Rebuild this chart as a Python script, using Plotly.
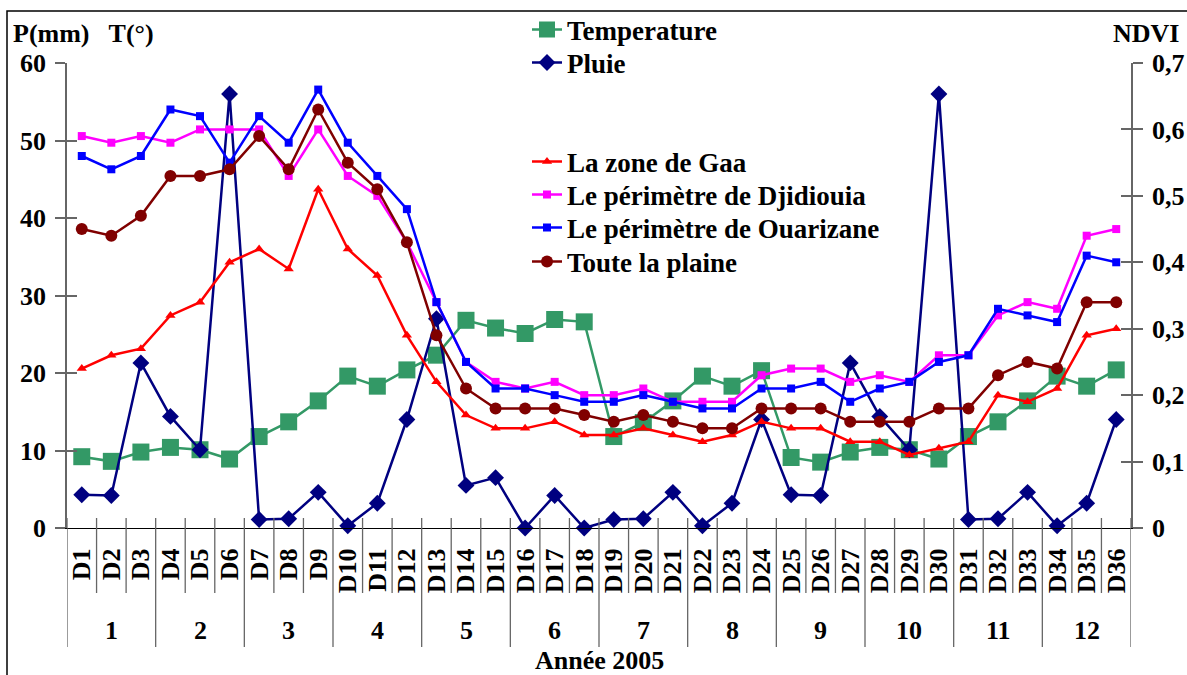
import plotly.graph_objects as go

decades = [f"D{i}" for i in range(1, 37)]
months = [str(m) for m in range(1, 13)]

temperature = [9.2, 8.6, 9.8, 10.4, 10.1, 8.9, 11.8, 13.7, 16.4, 19.6, 18.3, 20.4,
               22.3, 26.8, 25.8, 25.1, 26.9, 26.6, 11.8, 13.6, 16.4, 19.6, 18.3, 20.3,
               9.1, 8.5, 9.8, 10.4, 10.1, 8.9, 11.8, 13.7, 16.4, 19.6, 18.3, 20.4]
pluie = [4.3, 4.2, 21.3, 14.4, 10.1, 56.0, 1.1, 1.2, 4.6, 0.3, 3.2, 14.0,
         27.0, 5.5, 6.5, 0.0, 4.2, 0.0, 1.1, 1.2, 4.6, 0.3, 3.2, 14.0,
         4.3, 4.2, 21.3, 14.4, 10.1, 56.0, 1.1, 1.2, 4.6, 0.3, 3.2, 14.0]
gaa = [0.24, 0.26, 0.27, 0.32, 0.34, 0.40, 0.42, 0.39, 0.51, 0.42, 0.38, 0.29,
       0.22, 0.17, 0.15, 0.15, 0.16, 0.14, 0.14, 0.15, 0.14, 0.13, 0.14, 0.16,
       0.15, 0.15, 0.13, 0.13, 0.11, 0.12, 0.13, 0.20, 0.19, 0.21, 0.29, 0.30]
djidiouia = [0.59, 0.58, 0.59, 0.58, 0.60, 0.60, 0.60, 0.53, 0.60, 0.53, 0.50, 0.43,
             0.34, 0.25, 0.22, 0.21, 0.22, 0.20, 0.20, 0.21, 0.19, 0.19, 0.19, 0.23,
             0.24, 0.24, 0.22, 0.23, 0.22, 0.26, 0.26, 0.32, 0.34, 0.33, 0.44, 0.45]
ouarizane = [0.56, 0.54, 0.56, 0.63, 0.62, 0.55, 0.62, 0.58, 0.66, 0.58, 0.53, 0.48,
             0.34, 0.25, 0.21, 0.21, 0.20, 0.19, 0.19, 0.20, 0.19, 0.18, 0.18, 0.21,
             0.21, 0.22, 0.19, 0.21, 0.22, 0.25, 0.26, 0.33, 0.32, 0.31, 0.41, 0.40]
plaine = [0.45, 0.44, 0.47, 0.53, 0.53, 0.54, 0.59, 0.54, 0.63, 0.55, 0.51, 0.43,
          0.29, 0.21, 0.18, 0.18, 0.18, 0.17, 0.16, 0.17, 0.16, 0.15, 0.15, 0.18,
          0.18, 0.18, 0.16, 0.16, 0.16, 0.18, 0.18, 0.23, 0.25, 0.24, 0.34, 0.34]

left_ticks = [0, 10, 20, 30, 40, 50, 60]
right_ticks = [0, 0.1, 0.2, 0.3, 0.4, 0.5, 0.6, 0.7]
right_ticktext = ["0", "0,1", "0,2", "0,3", "0,4", "0,5", "0,6", "0,7"]

FONT = "Liberation Serif"
FS = 26
x = list(range(1, 37))

# plot area in pixels (for converting the reference layout to paper coords)
L, R, T, B = 67, 1131, 63, 528
PW, PH = R - L, B - T


def px(xp):
    return (xp - L) / PW


def py(yp):
    return (B - yp) / PH


series = [
    ("Temperature", temperature, "y", "#339966", "square", 17, 30),
    ("Pluie", pluie, "y", "#000080", "diamond", 13, 63),
    ("La zone de Gaa", gaa, "y2", "#FF0000", "triangle-up", 9, 162),
    ("Le périmètre de Djidiouia", djidiouia, "y2", "#FF00FF", "square", 8, 195),
    ("Le périmètre de Ouarizane", ouarizane, "y2", "#0000FF", "square", 8, 228),
    ("Toute la plaine", plaine, "y2", "#800000", "circle", 12, 262),
]

fig = go.Figure()
legend_layouts = {}
for i, (name, vals, yax, col, sym, size, ly) in enumerate(series):
    lname = "legend" if i == 0 else f"legend{i + 1}"
    fig.add_trace(go.Scatter(x=x, y=vals, name=name, mode="lines+markers", yaxis=yax,
                             line=dict(color=col, width=2.5),
                             marker=dict(symbol=sym, size=size, color=col),
                             cliponaxis=False, legend=lname))
    legend_layouts[lname] = dict(x=px(527), y=py(ly), xanchor="left", yanchor="middle",
                                 font=dict(family=FONT, size=FS + 1, color="black", weight="bold"),
                                 bgcolor="rgba(0,0,0,0)")

# helper empty traces so the inner-tick overlay axes are drawn
fig.add_trace(go.Scatter(x=[], y=[], yaxis="y3", showlegend=False, hoverinfo="skip"))
fig.add_trace(go.Scatter(x=[], y=[], yaxis="y4", showlegend=False, hoverinfo="skip"))

tickfont = dict(family=FONT, size=FS, color="black", weight="bold")
AXC = "#666666"

fig.update_layout(
    width=1187, height=675,
    margin=dict(l=L, r=1187 - R, t=T, b=675 - B, autoexpand=False),
    paper_bgcolor="white", plot_bgcolor="white",
    separators=", ",
    font=dict(family=FONT, color="black"),
    xaxis=dict(range=[0.5, 36.5], tickvals=x, ticktext=decades, tickangle=-90,
               ticks="", showgrid=False, zeroline=False, showline=True,
               linecolor="black", linewidth=1.2, tickfont=tickfont,
               ticklabelstandoff=9, automargin=False),
    yaxis=dict(range=[0, 60], tickvals=left_ticks, showgrid=False, zeroline=False,
               showline=True, linecolor=AXC, linewidth=1.5, ticks="outside",
               ticklen=10, tickcolor=AXC, tickwidth=1.5, tickfont=tickfont,
               ticklabelstandoff=4, automargin=False),
    yaxis2=dict(range=[0, 0.7], tickvals=right_ticks, ticktext=right_ticktext,
                overlaying="y", side="right", showgrid=False, zeroline=False,
                showline=True, linecolor=AXC, linewidth=1.5, ticks="outside",
                ticklen=10, tickcolor=AXC, tickwidth=1.5, tickfont=tickfont,
                ticklabelstandoff=4, automargin=False),
    yaxis3=dict(range=[0, 60], tickvals=left_ticks, overlaying="y", side="left",
                showgrid=False, zeroline=False, showline=False, ticks="inside",
                ticklen=10, tickcolor=AXC, tickwidth=1.5, showticklabels=False),
    yaxis4=dict(range=[0, 0.7], tickvals=right_ticks, overlaying="y", side="right",
                showgrid=False, zeroline=False, showline=False, ticks="inside",
                ticklen=10, tickcolor=AXC, tickwidth=1.5, showticklabels=False),
    showlegend=True,
    **legend_layouts,
)

shapes = []
# category separators (short) and month separators (long)
for k in range(0, 37):
    long_line = (k % 3 == 0)
    shapes.append(dict(type="line", xref="x", yref="paper", x0=k + 0.5, x1=k + 0.5,
                       y0=py(518), y1=py(647) if long_line else py(593),
                       line=dict(color=AXC, width=1.3)))
# outer frame
shapes.append(dict(type="rect", xref="paper", yref="paper",
                   x0=px(7), x1=px(1200), y0=py(690), y1=py(11),
                   line=dict(color="black", width=1.5), fillcolor="rgba(0,0,0,0)", layer="below"))
fig.update_layout(shapes=shapes)

annos = []
for i, m in enumerate(months):
    annos.append(dict(x=3 * i + 2, y=py(630), xref="x", yref="paper", text=m,
                      showarrow=False, font=dict(family=FONT, size=FS, color="black", weight="bold"),
                      yanchor="middle"))
annos.append(dict(x=18.5, y=py(660), xref="x", yref="paper", text="Année 2005",
                  showarrow=False, font=dict(family=FONT, size=FS, color="black", weight="bold"),
                  yanchor="middle"))
annos.append(dict(x=px(11), y=py(33), xref="paper", yref="paper",
                  text="P(mm)   T(°)", showarrow=False,
                  font=dict(family=FONT, size=FS, color="black", weight="bold"),
                  xanchor="left", yanchor="middle"))
annos.append(dict(x=px(1181), y=py(33), xref="paper", yref="paper",
                  text="NDVI", showarrow=False, xanchor="right", yanchor="middle",
                  font=dict(family=FONT, size=FS, color="black", weight="bold")))
fig.update_layout(annotations=annos)

fig.write_html("out.html", config={"displayModeBar": False},
               post_script="document.body.style.margin='0';")
